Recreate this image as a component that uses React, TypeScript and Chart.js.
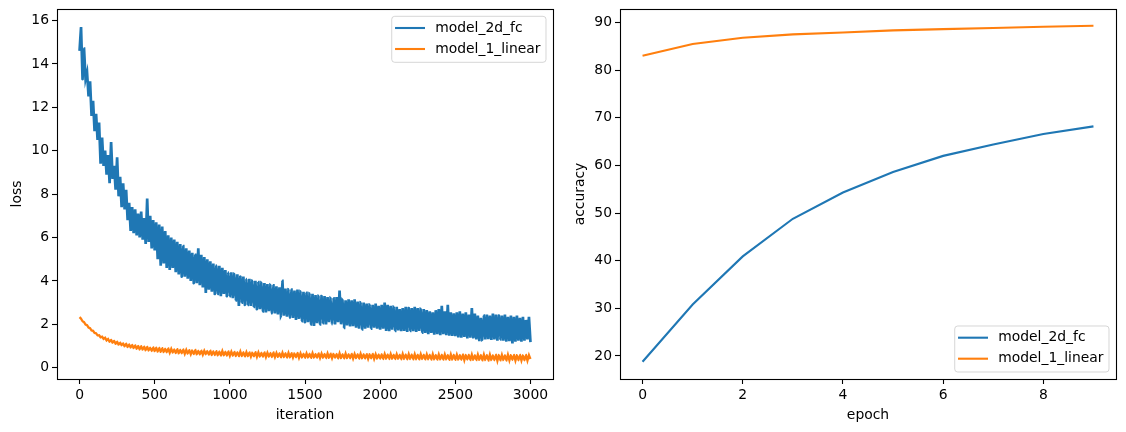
import React, { useEffect, useRef } from "react";
import { Chart, registerables } from "chart.js";

Chart.register(...registerables);

const BLUE = "#1f77b4";
const ORANGE = "#ff7f0e";
const FONT = "'DejaVu Sans', sans-serif";
const FS = 13.9;

const seriesNames = ["model_2d_fc", "model_1_linear"];

// ---- left panel: loss per iteration ----
const lossStep = 10; // iterations between samples
const lossFc = [
  14.6, 15.7, 13.3, 14.7, 13.3, 13.6, 12.5, 13.2, 11.6, 12.3,
  10.9, 11.7, 10.5, 11.3, 9.4, 10.6, 9.3, 10.0, 8.9, 9.8,
  8.5, 10.4, 8.7, 9.3, 8.2, 9.7, 7.9, 8.8, 7.4, 8.5,
  7.3, 8.2, 6.8, 7.6, 6.3, 7.4, 6.2, 7.3, 6.1, 7.1,
  6.0, 7.2, 5.9, 6.9, 5.7, 7.8, 5.8, 7.0, 5.5, 6.8,
  5.4, 6.7, 5.0, 6.6, 4.7, 6.5, 4.8, 6.3, 4.6, 6.1,
  4.5, 6.0, 4.6, 5.9, 4.4, 5.8, 4.3, 5.7, 4.2, 5.6,
  4.2, 5.5, 4.1, 5.4, 4.0, 5.3, 3.9, 5.2, 3.9, 5.5,
  3.8, 5.2, 3.7, 5.1, 3.45, 5.0, 3.6, 4.9, 3.5, 4.8,
  3.4, 4.7, 3.4, 4.7, 3.3, 4.6, 3.4, 4.5, 3.3, 4.4,
  3.3, 4.4, 3.2, 4.3, 3.1, 4.3, 2.85, 4.2, 3.0, 4.2,
  2.9, 4.1, 2.9, 4.1, 2.85, 4.0, 2.8, 4.0, 2.7, 3.95,
  2.7, 3.9, 2.6, 3.9, 2.55, 3.85, 2.6, 3.8, 2.5, 3.8,
  2.5, 3.75, 2.45, 3.7, 2.4, 4.0, 2.4, 3.65, 2.35, 3.6,
  2.3, 3.6, 2.3, 3.55, 2.2, 3.6, 2.25, 3.5, 2.15, 3.5,
  2.1, 3.45, 2.1, 3.4, 2.0, 3.4, 1.92, 3.35, 2.05, 3.3,
  2.0, 3.3, 2.05, 3.3, 2.0, 3.25, 2.1, 3.2, 2.0, 3.2,
  2.0, 3.25, 2.1, 3.55, 2.0, 3.1, 1.84, 3.1, 1.95, 3.15,
  1.9, 3.1, 1.92, 3.15, 1.85, 3.05, 1.8, 3.0, 1.76, 3.0,
  1.8, 2.95, 1.85, 2.9, 1.8, 2.9, 1.85, 2.95, 1.8, 2.85,
  1.75, 2.9, 1.8, 3.0, 1.7, 2.9, 1.68, 2.85, 1.75, 2.8,
  1.7, 2.8, 1.72, 2.7, 1.68, 2.75, 1.7, 2.8, 1.65, 2.75,
  1.7, 2.75, 1.68, 2.8, 1.65, 2.75, 1.7, 2.7, 1.62, 2.7,
  1.6, 2.65, 1.55, 2.6, 1.6, 2.55, 1.52, 2.65, 1.55, 2.7,
  1.5, 2.85, 1.55, 2.6, 1.5, 2.9, 1.48, 2.55, 1.46, 2.5,
  1.45, 2.55, 1.4, 2.6, 1.38, 2.5, 1.42, 2.55, 1.35, 2.45,
  1.38, 2.75, 1.35, 2.5, 1.3, 2.4, 1.22, 2.3, 1.3, 2.4,
  1.3, 2.45, 1.32, 2.4, 1.28, 2.5, 1.3, 2.45, 1.25, 2.4,
  1.3, 2.4, 1.25, 2.45, 1.2, 2.35, 1.22, 2.4, 1.12, 2.35,
  1.2, 2.4, 1.25, 2.3, 1.2, 2.35, 1.25, 2.2, 1.3, 2.35,
  1.18,
];

const lossLinear = [
  2.33, 2.26, 2.14, 2.10, 1.99, 1.96, 1.85, 1.82, 1.72, 1.70,
  1.60, 1.59, 1.49, 1.50, 1.40, 1.43, 1.33, 1.38, 1.26, 1.32,
  1.19, 1.28, 1.15, 1.24, 1.10, 1.20, 1.06, 1.16, 1.03, 1.12,
  0.98, 1.11, 0.95, 1.07, 0.93, 1.05, 0.90, 1.03, 0.87, 1.00,
  0.84, 0.99, 0.83, 0.97, 0.80, 0.96, 0.79, 0.93, 0.77, 0.94,
  0.76, 0.92, 0.74, 0.91, 0.73, 0.90, 0.72, 0.88, 0.71, 0.89,
  0.69, 0.87, 0.70, 0.85, 0.67, 0.86, 0.66, 0.83, 0.66, 0.84,
  0.64, 0.82, 0.65, 0.81, 0.62, 0.80, 0.63, 0.82, 0.61, 0.79,
  0.61, 0.79, 0.60, 0.78, 0.62, 0.77, 0.59, 0.79, 0.58, 0.76,
  0.58, 0.76, 0.57, 0.75, 0.56, 0.77, 0.57, 0.74, 0.55, 0.75,
  0.55, 0.74, 0.56, 0.73, 0.54, 0.72, 0.53, 0.74, 0.54, 0.72,
  0.52, 0.72, 0.53, 0.71, 0.51, 0.70, 0.52, 0.72, 0.50, 0.70,
  0.51, 0.69, 0.50, 0.71, 0.49, 0.69, 0.51, 0.68, 0.49, 0.70,
  0.49, 0.68, 0.50, 0.67, 0.48, 0.69, 0.49, 0.67, 0.47, 0.68,
  0.48, 0.67, 0.47, 0.66, 0.48, 0.68, 0.46, 0.66, 0.47, 0.65,
  0.46, 0.66, 0.47, 0.65, 0.45, 0.67, 0.46, 0.64, 0.45, 0.66,
  0.45, 0.65, 0.46, 0.64, 0.44, 0.66, 0.45, 0.65, 0.44, 0.64,
  0.45, 0.64, 0.43, 0.66, 0.44, 0.63, 0.43, 0.65, 0.44, 0.63,
  0.43, 0.64, 0.42, 0.63, 0.44, 0.62, 0.42, 0.64, 0.43, 0.62,
  0.42, 0.63, 0.41, 0.62, 0.43, 0.64, 0.41, 0.62, 0.42, 0.61,
  0.41, 0.62, 0.40, 0.63, 0.41, 0.61, 0.40, 0.63, 0.41, 0.60,
  0.40, 0.62, 0.41, 0.60, 0.39, 0.63, 0.40, 0.61, 0.39, 0.62,
  0.40, 0.61, 0.38, 0.62, 0.39, 0.60, 0.38, 0.62, 0.40, 0.60,
  0.38, 0.61, 0.39, 0.60, 0.37, 0.62, 0.38, 0.59, 0.37, 0.61,
  0.38, 0.60, 0.37, 0.61, 0.38, 0.59, 0.36, 0.61, 0.37, 0.60,
  0.36, 0.60, 0.37, 0.59, 0.36, 0.61, 0.35, 0.59, 0.37, 0.60,
  0.35, 0.60, 0.36, 0.58, 0.35, 0.60, 0.36, 0.59, 0.34, 0.60,
  0.35, 0.59, 0.33, 0.60, 0.35, 0.58, 0.34, 0.60, 0.32, 0.59,
  0.34, 0.59, 0.35, 0.58, 0.33, 0.60, 0.34, 0.58, 0.35, 0.59,
  0.33, 0.58, 0.34, 0.59, 0.33, 0.57, 0.34, 0.59, 0.33, 0.58,
  0.40,
];

const lossXTicks = [0, 500, 1000, 1500, 2000, 2500, 3000];
const lossYTicks = [0, 2, 4, 6, 8, 10, 12, 14, 16];

// ---- right panel: accuracy per epoch ----
const epochs = [0, 1, 2, 3, 4, 5, 6, 7, 8, 9];
const accFc = [18.8, 30.8, 40.9, 48.8, 54.3, 58.6, 62.0, 64.4, 66.6, 68.2];
const accLinear = [83.0, 85.5, 86.8, 87.5, 87.9, 88.35, 88.6, 88.85, 89.1, 89.3];
const accXTicks = [0, 2, 4, 6, 8];
const accYTicks = [20, 30, 40, 50, 60, 70, 80, 90];

const framePlugin = {
  id: "mplFrame",
  afterDraw(chart: any) {
    const { ctx, chartArea: a } = chart;
    ctx.save();
    ctx.strokeStyle = "#000";
    ctx.lineWidth = 1.1;
    ctx.strokeRect(a.left + 0.5, a.top + 0.5, a.right - a.left, a.bottom - a.top);
    ctx.restore();
  },
};

function legendPlugin(corner: "tr" | "br") {
  return {
    id: "mplLegend",
    afterDatasetsDraw(chart: any) {
      const { ctx, chartArea: a } = chart;
      const ds = chart.data.datasets;
      ctx.save();
      ctx.font = `${FS}px ${FONT}`;
      const tw = Math.max(...ds.map((d: any) => ctx.measureText(d.label).width));
      const w = 43.5 + tw + 5.5;
      const h = 46;
      const x = a.right - 7 - w;
      const y = corner === "tr" ? a.top + 7.3 : a.bottom - 7 - h;
      const r = 3;
      ctx.beginPath();
      ctx.moveTo(x + r, y);
      ctx.lineTo(x + w - r, y);
      ctx.arcTo(x + w, y, x + w, y + r, r);
      ctx.lineTo(x + w, y + h - r);
      ctx.arcTo(x + w, y + h, x + w - r, y + h, r);
      ctx.lineTo(x + r, y + h);
      ctx.arcTo(x, y + h, x, y + h - r, r);
      ctx.lineTo(x, y + r);
      ctx.arcTo(x, y, x + r, y, r);
      ctx.closePath();
      ctx.fillStyle = "rgba(255,255,255,0.8)";
      ctx.fill();
      ctx.strokeStyle = "rgba(204,204,204,0.8)";
      ctx.lineWidth = 1;
      ctx.stroke();
      ds.forEach((d: any, i: number) => {
        const ry = y + 11.7 + i * 21;
        ctx.beginPath();
        ctx.strokeStyle = d.borderColor;
        ctx.lineWidth = 2.1;
        ctx.moveTo(x + 3.3, ry);
        ctx.lineTo(x + 33.3, ry);
        ctx.stroke();
        ctx.fillStyle = "#000";
        ctx.textBaseline = "middle";
        ctx.textAlign = "left";
        ctx.fillText(d.label, x + 43.5, ry);
      });
      ctx.restore();
    },
  };
}

function axis(min: number, max: number, ticks: number[], title: string, isY: boolean) {
  return {
    type: "linear",
    min,
    max,
    afterBuildTicks: (s: any) => {
      s.ticks = ticks.map((v) => ({ value: v }));
    },
    afterFit: (s: any) => {
      if (isY) s.width = 57;
      else s.height = 53;
      s.paddingTop = 0;
      s.paddingBottom = 0;
      s.paddingLeft = 0;
      s.paddingRight = 0;
    },
    grid: {
      drawOnChartArea: false,
      drawTicks: true,
      tickLength: 5,
      tickWidth: 1.1,
      tickColor: "#000",
    },
    border: { display: false },
    ticks: {
      color: "#000",
      font: { family: FONT, size: FS },
      padding: 3,
      maxRotation: 0,
      autoSkip: false,
      callback: (v: any) => String(v),
    },
    title: {
      display: true,
      text: title,
      color: "#000",
      font: { family: FONT, size: FS },
      padding: { top: 8.6, bottom: 8.6 },
    },
  };
}

function baseOptions(x: any, y: any) {
  return {
    responsive: false,
    animation: false,
    devicePixelRatio: 1,
    events: [],
    layout: { padding: { left: 0, top: 9, right: 10, bottom: 0 } },
    plugins: { legend: { display: false }, tooltip: { enabled: false } },
    elements: { point: { radius: 0 }, line: { tension: 0 } },
    scales: { x, y },
  };
}

export default function App() {
  const leftRef = useRef<HTMLCanvasElement>(null);
  const rightRef = useRef<HTMLCanvasElement>(null);

  useEffect(() => {
    const left = new Chart(leftRef.current as HTMLCanvasElement, {
      type: "line",
      data: {
        datasets: [
          {
            label: seriesNames[0],
            data: lossFc.map((v, i) => ({ x: i * lossStep, y: v })),
            borderColor: BLUE,
            borderWidth: 2.7,
            tension: 0.001,
            pointRadius: 0,
          },
          {
            label: seriesNames[1],
            data: lossLinear.map((v, i) => ({ x: i * lossStep, y: v })),
            borderColor: ORANGE,
            borderWidth: 2.3,
            tension: 0.001,
            pointRadius: 0,
          },
        ],
      },
      options: baseOptions(
        axis(-150, 3150, lossXTicks, "iteration", false),
        axis(-0.52, 16.53, lossYTicks, "loss", true)
      ) as any,
      plugins: [framePlugin, legendPlugin("tr")],
    } as any);

    const right = new Chart(rightRef.current as HTMLCanvasElement, {
      type: "line",
      data: {
        datasets: [
          {
            label: seriesNames[0],
            data: epochs.map((e, i) => ({ x: e, y: accFc[i] })),
            borderColor: BLUE,
            borderWidth: 2.1,
            pointRadius: 0,
          },
          {
            label: seriesNames[1],
            data: epochs.map((e, i) => ({ x: e, y: accLinear[i] })),
            borderColor: ORANGE,
            borderWidth: 2.1,
            pointRadius: 0,
          },
        ],
      },
      options: baseOptions(
        axis(-0.45, 9.45, accXTicks, "epoch", false),
        axis(15.17, 92.83, accYTicks, "accuracy", true)
      ) as any,
      plugins: [framePlugin, legendPlugin("br")],
    } as any);

    return () => {
      left.destroy();
      right.destroy();
    };
  }, []);

  return (
    <div
      style={{
        position: "fixed",
        left: 0,
        top: 0,
        width: 1126,
        height: 432,
        background: "#fff",
        overflow: "hidden",
      }}
    >
      <canvas
        ref={leftRef}
        width={563}
        height={432}
        style={{ position: "absolute", left: 0, top: 0, width: 563, height: 432 }}
      />
      <canvas
        ref={rightRef}
        width={563}
        height={432}
        style={{ position: "absolute", left: 563, top: 0, width: 563, height: 432 }}
      />
    </div>
  );
}
